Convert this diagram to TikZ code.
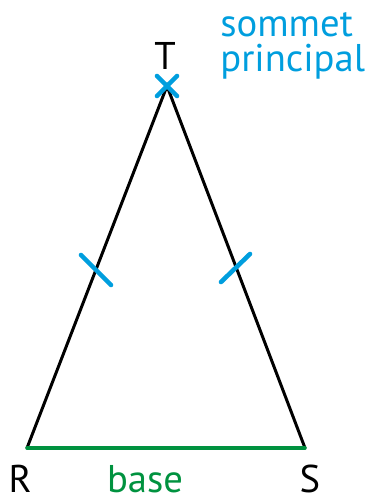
\documentclass[tikz,border=0pt]{standalone}
\usepackage{fontspec}
\setmainfont{PT Sans}
\usepackage{tikz}
\usetikzlibrary{calc}
\definecolor{sommetblue}{RGB}{0,158,222}
\definecolor{basegreen}{RGB}{0,146,63}

\begin{document}
\begin{tikzpicture}[x=0.02cm,y=-0.02cm,
  side/.style={line width=1.7pt,line cap=round},
  tick/.style={sommetblue,line width=2.6pt,line cap=round},
  lbl/.style={font=\fontsize{22}{26}\selectfont,inner sep=0pt,anchor=base}]
 \useasboundingbox (0,0) rectangle (377,502);
 \coordinate (T) at (167,86);
 \coordinate (R) at (27,448);
 \coordinate (S) at (305,448);
  \draw[side] (R) -- (T) -- (S);
  \draw[side,basegreen,line width=2pt] (R) -- (S);
 % codage des cotes egaux
  \draw[tick] ($(R)!0.5!(T)+(-16,-12)$) -- ($(R)!0.5!(T)+(14,18)$);
  \draw[tick] ($(T)!0.5!(S)+(-15,15)$) -- ($(T)!0.5!(S)+(14,-13)$);
 % sommet principal
  \draw[tick] ($(T)+(-10,-10)$) -- ($(T)+(10,10)$);
  \draw[tick] ($(T)+(-10,10)$) -- ($(T)+(10,-10)$);
 \node[lbl] (labT) at (165,70) {T};
 \node[lbl] (labR) at (20,492) {R};
 \node[lbl] (labS) at (310,492) {S};
 \node[lbl,basegreen] (labbase) at (145,492) {base};
 \node[lbl,sommetblue,anchor=base west] (labsom1) at (220,37) {sommet};
 \node[lbl,sommetblue,anchor=base west] (labsom2) at (220,72) {principal};
\end{tikzpicture}
\end{document}
